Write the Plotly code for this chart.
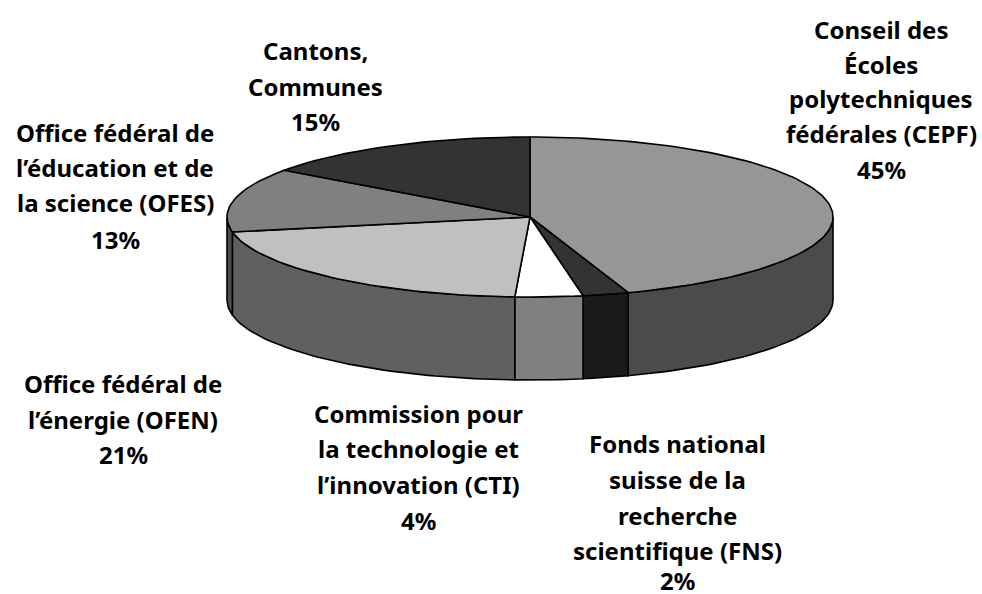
import math
import plotly.graph_objects as go

values = [44.75, 2.45, 3.6, 21.2, 12.95, 15.05]
top_colors = ["#969696", "#333333", "#ffffff", "#c0c0c0", "#808080", "#333333"]
side_colors = ["#4b4b4b", "#1a1a1a", "#808080", "#606060", "#4d4d4d", "#1a1a1a"]
label_lines = [
    ["Conseil des", "Écoles", "polytechniques", "fédérales (CEPF)", "45%"],
    ["Fonds national", "suisse de la", "recherche", "scientifique (FNS)", "2%"],
    ["Commission pour", "la technologie et", "l’innovation (CTI)", "4%"],
    ["Office fédéral de", "l’énergie (OFEN)", "21%"],
    ["Office fédéral de", "l’éducation et de", "la science (OFES)", "13%"],
    ["Cantons,", "Communes", "15%"],
]
label_x = [881, 677, 418, 123, 115, 315]
label_y = [
    [29, 64, 98, 133, 169],
    [443, 479, 515, 550, 580],
    [413, 448, 484, 520],
    [383, 419, 454],
    [132, 167, 202, 239],
    [50, 86, 121],
]

CX, CY, RX, RY, DEPTH = 530, 217, 303, 80, 83
FONT = "Noto Sans"
FONT_SIZE = 24


def arc(a0, a1, dy=0):
    n = max(2, int(abs(a1 - a0) / 1.5) + 1)
    pts = [a0 + (a1 - a0) * i / (n - 1) for i in range(n)]
    xs = [CX + RX * math.sin(math.radians(a)) for a in pts]
    ys = [CY - RY * math.cos(math.radians(a)) + dy for a in pts]
    return xs, ys


fig = go.Figure()
total = sum(values)
bounds = [0]
for v in values:
    bounds.append(bounds[-1] + v / total * 360)


def poly(xs, ys, color):
    fig.add_trace(go.Scatter(x=xs, y=ys, mode="lines", fill="toself", fillcolor=color,
                             line=dict(color="#000000", width=1.6), hoverinfo="skip",
                             showlegend=False))


# side walls (only the front half of the disc, 90..270 degrees)
for i in range(len(values)):
    a0, a1 = max(bounds[i], 90), min(bounds[i + 1], 270)
    if a1 <= a0:
        continue
    x1, y1 = arc(a0, a1)
    x2, y2 = arc(a1, a0, DEPTH)
    poly(x1 + x2 + x1[:1], y1 + y2 + y1[:1], side_colors[i])

# top faces
for i in range(len(values)):
    x1, y1 = arc(bounds[i], bounds[i + 1])
    poly([CX] + x1 + [CX], [CY] + y1 + [CY], top_colors[i])

annotations = []
for lines, x, ys in zip(label_lines, label_x, label_y):
    for text, y in zip(lines, ys):
        annotations.append(dict(x=x, y=y, text=text, showarrow=False, xanchor="center",
                                yanchor="middle",
                                font=dict(family=FONT, size=FONT_SIZE, color="#000000", weight=700)))

fig.update_layout(
    width=982, height=594, margin=dict(l=0, r=0, t=0, b=0),
    paper_bgcolor="#ffffff", plot_bgcolor="#ffffff", showlegend=False,
    xaxis=dict(range=[0, 982], visible=False, fixedrange=True),
    yaxis=dict(range=[594, 0], visible=False, fixedrange=True),
    annotations=annotations,
)
fig.write_html("out.html", config={"displayModeBar": False},
               post_script="document.body.style.margin='0';document.documentElement.style.overflow='hidden';")
